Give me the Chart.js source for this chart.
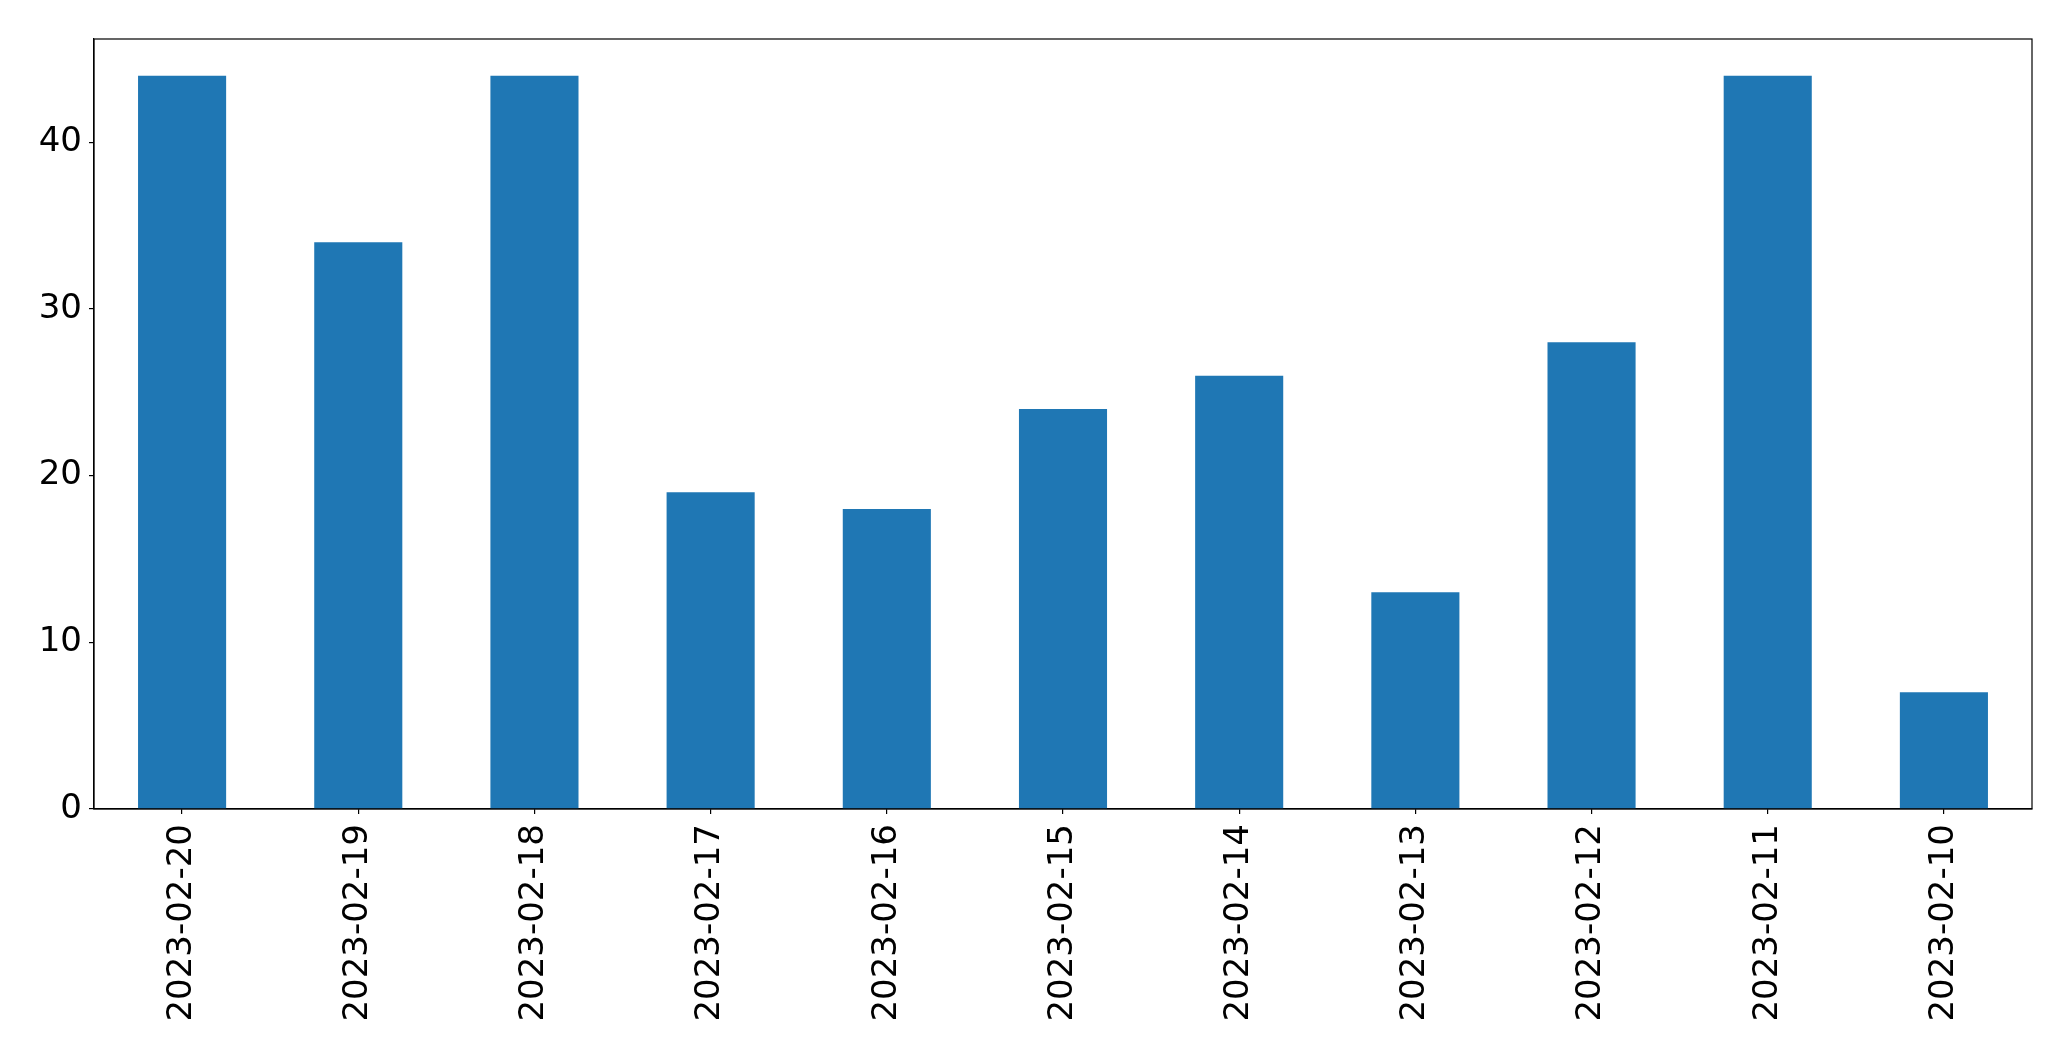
<!DOCTYPE html>
<html>
<head>
<meta charset="utf-8">
<script src="https://cdn.jsdelivr.net/npm/chart.js@4/dist/chart.umd.min.js"></script>
<style>
  html, body { margin: 0; padding: 0; background: #ffffff; }
  #c { display: block; }
</style>
</head>
<body>
<canvas id="c" width="2071" height="1061"></canvas>
<script>
const categories = ["2023-02-20","2023-02-19","2023-02-18","2023-02-17","2023-02-16","2023-02-15","2023-02-14","2023-02-13","2023-02-12","2023-02-11","2023-02-10"];
const values = [44, 34, 44, 19, 18, 24, 26, 13, 28, 44, 7];
const yTicks = [0, 10, 20, 30, 40];

const frame = {
  id: 'frame',
  afterDraw(chart) {
    const a = chart.chartArea, ctx = chart.ctx;
    ctx.save();
    ctx.strokeStyle = '#000';
    ctx.lineWidth = 1.2;
    ctx.strokeRect(a.left, a.top, a.right - a.left, a.bottom - a.top);
    ctx.restore();
  }
};

new Chart(document.getElementById('c'), {
  type: 'bar',
  data: {
    labels: categories,
    datasets: [{
      data: values,
      backgroundColor: '#1f77b4',
      borderWidth: 0,
      barPercentage: 0.5,
      categoryPercentage: 1.0
    }]
  },
  options: {
    responsive: false,
    animation: false,
    devicePixelRatio: 1,
    layout: { padding: { top: 39, right: 39, left: 0, bottom: 0 } },
    plugins: { legend: { display: false }, tooltip: { enabled: false } },
    scales: {
      x: {
        afterFit(s) { s.height = 252; },
        grid: { display: true, drawOnChartArea: false, drawTicks: true, tickLength: 5, color: '#000', offset: false, lineWidth: 1.2 },
        border: { display: true, color: '#000', width: 1.2 },
        ticks: {
          color: '#000',
          font: { family: 'DejaVu Sans', size: 34 },
          minRotation: 90, maxRotation: 90,
          padding: 10,
          autoSkip: false
        }
      },
      y: {
        min: 0,
        max: 46.2,
        afterFit(s) { s.width = 94; },
        afterBuildTicks(s) { s.ticks = yTicks.map(v => ({ value: v })); },
        grid: { display: true, drawOnChartArea: false, drawTicks: true, tickLength: 5, color: '#000', lineWidth: 1.2 },
        border: { display: true, color: '#000', width: 1.2 },
        ticks: {
          color: '#000',
          font: { family: 'DejaVu Sans', size: 34 },
          padding: 7
        }
      }
    }
  },
  plugins: [frame]
});
</script>
</body>
</html>
